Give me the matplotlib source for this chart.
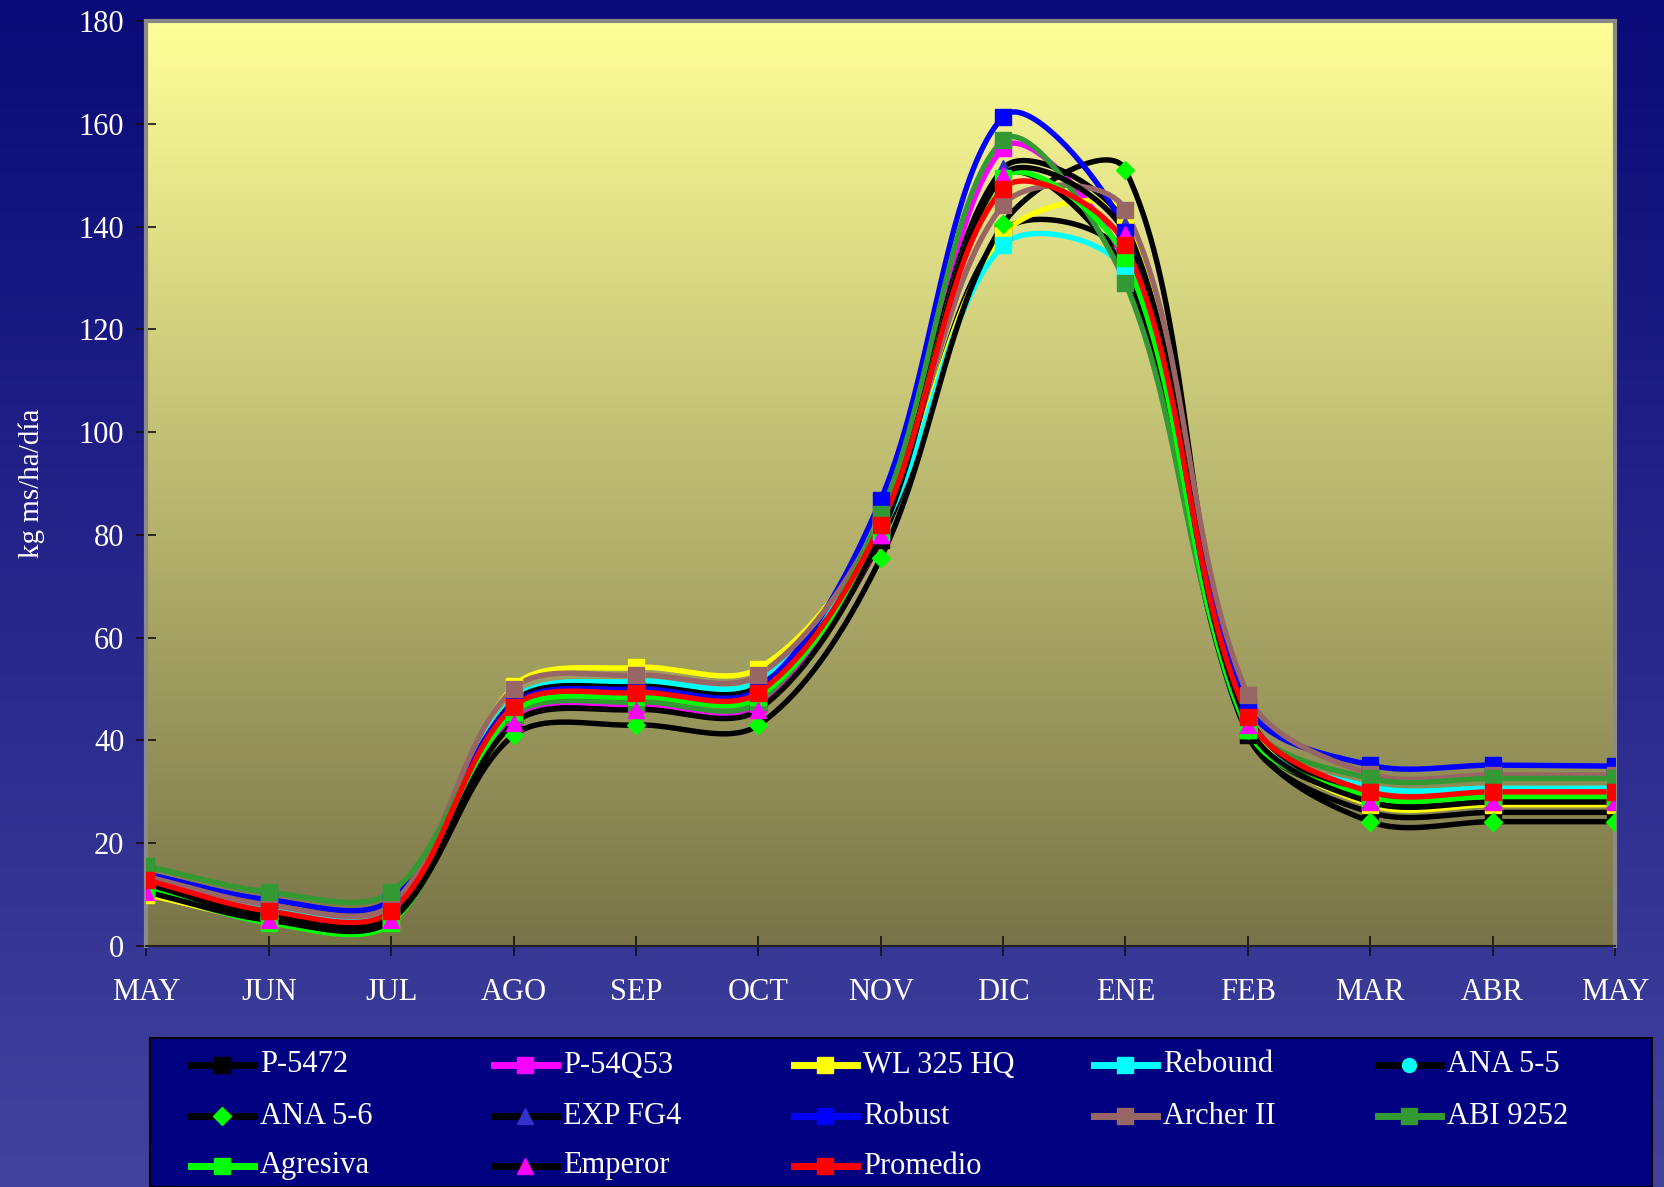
import numpy as np
import matplotlib
matplotlib.use("Agg")
import matplotlib.pyplot as plt
from matplotlib.lines import Line2D

plt.rcParams['font.family'] = ['Liberation Serif', 'DejaVu Serif']

months = ["MAY", "JUN", "JUL", "AGO", "SEP", "OCT", "NOV",
          "DIC", "ENE", "FEB", "MAR", "ABR", "MAY"]

p5472    = [11.5, 5.5, 5.5, 44.0, 47.0, 47.0, 79.0, 139.0, 134.0, 41.0, 26.0, 26.0, 26.0]
p54q53   = [10.5, 4.7, 4.7, 44.5, 47.0, 47.0, 80.0, 155.3, 133.0, 42.8, 28.0, 28.0, 28.0]
wl325    = [10.0, 5.0, 5.0, 50.5, 54.2, 54.0, 82.0, 138.4, 142.0, 43.5, 27.5, 27.5, 27.5]
rebound  = [13.0, 7.5, 7.5, 48.0, 51.5, 51.5, 80.5, 136.4, 131.2, 42.0, 31.0, 30.7, 30.7]
ana55    = [12.0, 6.0, 6.0, 47.5, 50.5, 50.5, 81.0, 149.7, 131.0, 42.0, 28.5, 28.5, 28.5]
ana56    = [11.0, 5.5, 5.5, 41.0, 43.0, 43.0, 75.5, 140.5, 151.0, 42.0, 24.2, 24.2, 24.2]
expfg4   = [12.0, 6.0, 6.0, 46.0, 49.0, 49.0, 82.0, 151.3, 140.3, 45.0, 28.5, 28.5, 28.5]
robust   = [14.0, 9.0, 9.0, 47.0, 50.0, 50.0, 86.8, 161.4, 139.0, 46.7, 35.2, 35.2, 35.0]
archer   = [13.5, 8.0, 8.0, 50.1, 52.7, 52.7, 83.0, 144.2, 143.2, 48.8, 33.5, 33.3, 33.3]
abi9252  = [15.5, 10.5, 10.5, 45.0, 47.5, 47.5, 84.0, 156.8, 129.0, 44.0, 32.6, 32.6, 32.6]
agresiva = [11.0, 4.5, 4.5, 45.5, 48.5, 48.5, 81.0, 149.5, 133.8, 42.0, 29.0, 29.0, 29.0]
emperor  = [10.5, 5.0, 5.0, 43.3, 46.0, 46.0, 80.0, 150.0, 138.5, 43.0, 28.0, 28.0, 28.0]
promedio = [12.8, 6.8, 6.8, 46.6, 49.3, 49.3, 82.0, 147.4, 136.4, 44.6, 30.0, 30.0, 30.0]

labels = ["P-5472", "P-54Q53", "WL 325 HQ", "Rebound", "ANA 5-5",
          "ANA 5-6", "EXP FG4", "Robust", "Archer II", "ABI 9252",
          "Agresiva", "Emperor", "Promedio"]
series = [p5472, p54q53, wl325, rebound, ana55, ana56, expfg4,
          robust, archer, abi9252, agresiva, emperor, promedio]
# (line colour, marker, marker colour, marker size)
styles = [
    ("black", "s", "black", 11),
    ("#FF00FF", "s", "#FF00FF", 11),
    ("#FFFF00", "s", "#FFFF00", 11),
    ("#00FFFF", "s", "#00FFFF", 11),
    ("black", "o", "#00FFFF", 10),
    ("black", "D", "#00FF00", 9),
    ("black", "^", "#3333CC", 12),
    ("#0000FF", "s", "#0000FF", 11),
    ("#996666", "s", "#996666", 11),
    ("#339933", "s", "#339933", 11),
    ("#00FF00", "s", "#00FF00", 11),
    ("black", "^", "#FF00FF", 12),
    ("#FF0000", "s", "#FF0000", 11),
]


def smooth(y, yscale=4.84 / 115, n=40):
    # bezier smoothing in screen-like space, control arms scaled by
    # neighbouring chord lengths (close to the spreadsheet smoothed line)
    y = np.asarray(y, dtype=float)
    P = np.column_stack([np.arange(len(y), dtype=float), y * yscale])
    prev = np.vstack([P[:1], P[:-1]])
    nxt = np.vstack([P[1:], P[-1:]])
    T = nxt - prev
    dp = np.linalg.norm(P - prev, axis=1)
    dn = np.linalg.norm(nxt - P, axis=1)
    tot = np.where(dp + dn == 0, 1, dp + dn)
    t = np.linspace(0, 1, n, endpoint=False)[:, None]
    pts = []
    for i in range(len(y) - 1):
        c1 = P[i] + T[i] * dn[i] / tot[i] / 3
        c2 = P[i + 1] - T[i + 1] * dp[i + 1] / tot[i + 1] / 3
        b = ((1 - t) ** 3 * P[i] + 3 * (1 - t) ** 2 * t * c1
             + 3 * (1 - t) * t ** 2 * c2 + t ** 3 * P[i + 1])
        pts.append(b)
    pts.append(P[-1:])
    pts = np.vstack(pts)
    return pts[:, 0], pts[:, 1] / yscale


W, H = 1665, 1187
fig = plt.figure(figsize=(W / 100, H / 100), dpi=100)

# figure background gradient (navy -> blue)
bg = fig.add_axes([0, 0, 1, 1], zorder=-10)
top_c = np.array([10, 10, 120]) / 255
bot_c = np.array([66, 66, 158]) / 255
g = np.linspace(0, 1, 256)[:, None]
bg.imshow((top_c + (bot_c - top_c) * g)[:, None, :].repeat(2, axis=1),
          aspect="auto", extent=[0, 1, 0, 1])
bg.axis("off")

ax = fig.add_axes([146.5 / W, (H - 946) / H, (1615 - 146.5) / W, (946 - 21) / H])
ptop = np.array([255, 255, 153]) / 255
pbot = np.array([120, 116, 72]) / 255
ax.imshow((ptop + (pbot - ptop) * g)[:, None, :].repeat(2, axis=1),
          aspect="auto", extent=[0, 12, 0, 180], zorder=0)

x = np.arange(len(months))
for lab, ys, (lc, mk, mc, ms) in zip(labels, series, styles):
    sx, sy = smooth(ys)
    ax.plot(sx, sy, color=lc, lw=3.9, zorder=2, solid_capstyle="round")
    ax.plot(x, ys, ls="none", marker=mk, ms=ms, mfc=mc, mec=mc, zorder=3)

ax.set_xlim(0, 12)
ax.set_ylim(0, 180)
ax.set_xticks(x)
ax.set_xticklabels(months)
ax.set_yticks(np.arange(0, 181, 20))
ax.tick_params(axis="both", direction="inout", length=14, width=1.2,
               color="#111111", labelcolor="white", labelsize=22)
ax.tick_params(axis="x", pad=16)
ax.tick_params(axis="y", pad=9)
for s in ["left", "top", "right"]:
    ax.spines[s].set_color("#8a8a8a")
    ax.spines[s].set_linewidth(3)
ax.spines["bottom"].set_color("#222222")
ax.spines["bottom"].set_linewidth(1.5)

fig.text(32 / W, 1 - 483 / H, "kg ms/ha/día", rotation=90, color="white",
         fontsize=21, ha="center", va="center")

# legend box at the bottom, laid out in rows like the original
lax = fig.add_axes([150 / W, 0, (1652 - 150) / W, (H - 1038) / H])
lax.set_facecolor("#000080")
lax.set_xlim(150, 1652)
lax.set_ylim(H, 1038)
lax.set_xticks([])
lax.set_yticks([])
for s in lax.spines.values():
    s.set_color("black")
    s.set_linewidth(1.5)
col_x = [191, 494, 794, 1094, 1378]
row_y = [1065, 1116, 1166]
for i, (lab, (lc, mk, mc, ms)) in enumerate(zip(labels, styles)):
    cx, cy = col_x[i % 5], row_y[i // 5]
    lax.add_line(Line2D([cx, cx + 63], [cy, cy], color=lc, lw=5))
    lax.add_line(Line2D([cx + 31], [cy], marker=mk, ms=ms, mfc=mc, mec=mc))
    lax.text(cx + 69, cy, lab, color="white", fontsize=22, va="center", ha="left")

fig.savefig("out.png", dpi=100)
